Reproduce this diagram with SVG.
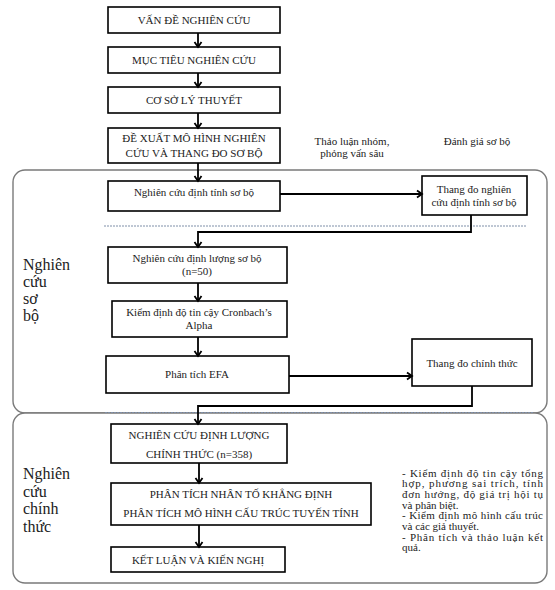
<svg xmlns="http://www.w3.org/2000/svg" width="555" height="590" viewBox="0 0 555 590">
<style>
.box{fill:#fff;stroke:#000;stroke-width:1.6}
.panel{fill:#fff;stroke:#7a7a7a;stroke-width:1.4}
.t{font-family:"Liberation Serif","Times New Roman",serif;font-size:11px;fill:#222;text-anchor:middle}
.lbl{font-family:"Liberation Serif","Times New Roman",serif;font-size:16px;fill:#222}
.note{font-family:"Liberation Serif","Times New Roman",serif;font-size:11px;fill:#222}
.c{fill:none;stroke:#000;stroke-width:1.8}
.dash{stroke:#7f8fa8;stroke-width:1;stroke-dasharray:2,1}
</style>
<defs>
<marker id="ah" markerWidth="10" markerHeight="10" refX="8" refY="5" orient="auto" markerUnits="userSpaceOnUse">
<path d="M3,1.5 L8,5 L3,8.5" fill="none" stroke="#000" stroke-width="1.8"/>
</marker>
</defs>

<g id="panel-so-bo">
<rect class="panel" x="13" y="170" width="534" height="243" rx="12"/>
<text class="lbl" x="23" y="270">Nghiên</text>
<text class="lbl" x="23" y="287">cứu</text>
<text class="lbl" x="23" y="304">sơ</text>
<text class="lbl" x="23" y="321">bộ</text>
</g>
<g id="panel-chinh-thuc">
<rect class="panel" x="13" y="413" width="534" height="170" rx="12"/>
<text class="lbl" x="23" y="479">Nghiên</text>
<text class="lbl" x="23" y="497">cứu</text>
<text class="lbl" x="23" y="514">chính</text>
<text class="lbl" x="23" y="532">thức</text>
</g>
<line class="dash" x1="104" y1="226" x2="527" y2="226"/>
<line class="dash" x1="105" y1="412.5" x2="533" y2="412.5" stroke-width="1.6"/>

<g id="n1"><rect class="box" x="108" y="7" width="172" height="26"/><text class="t" x="194" y="24">VẤN ĐỀ NGHIÊN CỨU</text></g>
<g id="n2"><rect class="box" x="108" y="47" width="172" height="26"/><text class="t" x="194" y="64">MỤC TIÊU NGHIÊN CỨU</text></g>
<g id="n3"><rect class="box" x="108" y="87" width="172" height="26"/><text class="t" x="194" y="104">CƠ SỞ LÝ THUYẾT</text></g>
<g id="n4"><rect class="box" x="108" y="128" width="172" height="35"/><text class="t" x="194" y="142">ĐỀ XUẤT MÔ HÌNH NGHIÊN</text><text class="t" x="194" y="157">CỨU VÀ THANG ĐO SƠ BỘ</text></g>

<g id="lbl-thao-luan"><text class="t" x="352" y="145">Thảo luận nhóm,</text><text class="t" x="352" y="157">phỏng vấn sâu</text></g>
<g id="lbl-danh-gia"><text class="t" x="477" y="145">Đánh giá sơ bộ</text></g>

<g id="n5"><rect class="box" x="108" y="181" width="172" height="30"/><text class="t" x="194" y="196">Nghiên cứu định tính sơ bộ</text></g>
<g id="n6"><rect class="box" x="422" y="176" width="105" height="39"/><text class="t" x="474" y="193">Thang đo nghiên</text><text class="t" x="474" y="206">cứu định tính sơ bộ</text></g>
<g id="n7"><rect class="box" x="108" y="247" width="179" height="36"/><text class="t" x="197" y="262">Nghiên cứu định lượng sơ bộ</text><text class="t" x="197" y="275">(n=50)</text></g>
<g id="n8"><rect class="box" x="112" y="301" width="175" height="36"/><text class="t" x="199" y="316">Kiểm định độ tin cậy Cronbach’s</text><text class="t" x="199" y="329">Alpha</text></g>
<g id="n9"><rect class="box" x="106" y="356" width="183" height="37"/><text class="t" x="197" y="378">Phân tích EFA</text></g>
<g id="n10"><rect class="box" x="412" y="339" width="120" height="47"/><text class="t" x="472" y="367">Thang đo chính thức</text></g>

<g id="n11"><rect class="box" x="111" y="424" width="176" height="39"/><text class="t" x="199" y="439">NGHIÊN CỨU ĐỊNH LƯỢNG</text><text class="t" x="199" y="458">CHÍNH THỨC (n=358)</text></g>
<g id="n12"><rect class="box" x="111" y="483" width="260" height="42"/><text class="t" x="241" y="498">PHÂN TÍCH NHÂN TỐ KHẲNG ĐỊNH</text><text class="t" x="241" y="517">PHÂN TÍCH MÔ HÌNH CẤU TRÚC TUYẾN TÍNH</text></g>
<g id="n13"><rect class="box" x="111" y="547" width="174" height="25"/><text class="t" x="198" y="564">KẾT LUẬN VÀ KIẾN NGHỊ</text></g>

<g id="note">
<text class="note" x="402" y="476.5" textLength="141" lengthAdjust="spacing">- Kiểm định độ tin cậy tổng</text>
<text class="note" x="402" y="487.2" textLength="141" lengthAdjust="spacing">hợp, phương sai trích, tính</text>
<text class="note" x="402" y="497.9" textLength="141" lengthAdjust="spacing">đơn hướng, độ giá trị hội tụ</text>
<text class="note" x="402" y="508.6">và phân biệt.</text>
<text class="note" x="402" y="519.3" textLength="141" lengthAdjust="spacing">- Kiểm định mô hình cấu trúc</text>
<text class="note" x="402" y="530">và các giả thuyết.</text>
<text class="note" x="402" y="540.7" textLength="141" lengthAdjust="spacing">- Phân tích và thảo luận kết</text>
<text class="note" x="402" y="551.4">quả.</text>
</g>

<g id="connectors">
<line class="c" x1="198" y1="33" x2="198" y2="47" marker-end="url(#ah)"/>
<line class="c" x1="198" y1="73" x2="198" y2="87" marker-end="url(#ah)"/>
<line class="c" x1="198" y1="113" x2="198" y2="128" marker-end="url(#ah)"/>
<line class="c" x1="198" y1="163" x2="198" y2="181" marker-end="url(#ah)"/>
<line class="c" x1="280" y1="194" x2="422" y2="194" marker-end="url(#ah)"/>
<polyline class="c" points="471,215 471,232 198,232 198,247" marker-end="url(#ah)"/>
<line class="c" x1="198" y1="283" x2="198" y2="301" marker-end="url(#ah)"/>
<line class="c" x1="198" y1="337" x2="198" y2="356" marker-end="url(#ah)"/>
<line class="c" x1="289" y1="376" x2="412" y2="376" marker-end="url(#ah)"/>
<polyline class="c" points="472,386 472,406 198,406 198,424" marker-end="url(#ah)"/>
<line class="c" x1="199" y1="463" x2="199" y2="483" marker-end="url(#ah)"/>
<line class="c" x1="199" y1="525" x2="199" y2="547" marker-end="url(#ah)"/>
</g>
</svg>
